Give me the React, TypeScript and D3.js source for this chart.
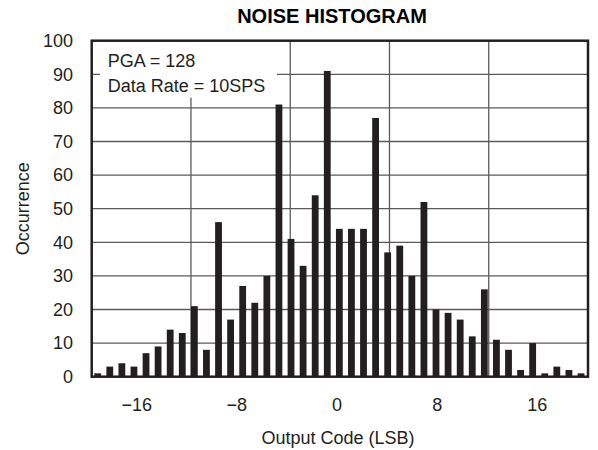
import { useMemo } from "react";
import * as d3 from "d3";

const WIDTH = 598;
const HEIGHT = 450;
const PLOT = { left: 91.7, right: 588, top: 40.7, bottom: 376.7 };
const FONT = "'Liberation Sans', Arial, Helvetica, sans-serif";
const INK = "#231f20";

// output codes, one bar each
const codes = [
  -20, -19, -18, -17, -16, -15, -14, -13, -12, -11, -10, -9, -8, -7, -6, -5, -4,
  -3, -2, -1, 0, 1, 2, 3, 4, 5, 6, 7, 8, 9, 10, 11, 12, 13, 14, 15, 16, 17, 18,
  19, 20,
];
const occurrences = [
  1, 3, 4, 3, 7, 9, 14, 13, 21, 8, 46, 17, 27, 22, 30, 81, 41, 33, 54, 91, 44,
  44, 44, 77, 37, 39, 30, 52, 20, 19, 17, 12, 26, 11, 8, 2, 10, 1, 3, 2, 1,
];
const xTicks = [-16, -8, 0, 8, 16];
const yTicks = [0, 10, 20, 30, 40, 50, 60, 70, 80, 90, 100];
const legendLines = ["PGA = 128", "Data Rate = 10SPS"];

const BAR_WIDTH = 6.8;

export default function App() {
  const xBar = useMemo(
    () => d3.scaleLinear().domain([-20, 20]).range([97.7, 581]),
    []
  );
  // tick labels of the original sit on their own spacing
  const xLabel = useMemo(
    () => d3.scaleLinear().domain([-16, 16]).range([136.7, 537.3]),
    []
  );
  const xGrid = useMemo(
    () => d3.scaleLinear().domain([0, 5]).range([PLOT.left, PLOT.right]),
    []
  );
  const yScale = useMemo(
    () => d3.scaleLinear().domain([0, 100]).range([PLOT.bottom, PLOT.top]),
    []
  );

  const bars = codes.map((c, i) => {
    const v = occurrences[i];
    return (
      <rect
        key={c}
        x={xBar(c) - BAR_WIDTH / 2}
        y={yScale(v)}
        width={BAR_WIDTH}
        height={PLOT.bottom - yScale(v)}
        fill={INK}
      />
    );
  });

  return (
    <svg
      width={WIDTH}
      height={HEIGHT}
      style={{ position: "absolute", left: 0, top: 0, background: "#fff" }}
      fontFamily={FONT}
    >
      {/* grid */}
      {yTicks.slice(1, -1).map((t) => (
        <line
          key={"h" + t}
          x1={PLOT.left}
          x2={PLOT.right}
          y1={yScale(t)}
          y2={yScale(t)}
          stroke="#5a5a5a"
          strokeWidth={1.3}
        />
      ))}
      {d3.range(1, 5).map((i) => (
        <line
          key={"v" + i}
          x1={xGrid(i)}
          x2={xGrid(i)}
          y1={PLOT.top}
          y2={PLOT.bottom}
          stroke="#5a5a5a"
          strokeWidth={1.3}
        />
      ))}

      {/* legend box hides the grid behind it */}
      <rect x={100} y={PLOT.top} width={177} height={57} fill="#fff" />
      {legendLines.map((t, i) => (
        <text key={t} x={107.7} y={66.7 + i * 25} fontSize={18} fill={INK}>
          {t}
        </text>
      ))}

      {bars}

      <rect
        x={PLOT.left}
        y={PLOT.top}
        width={PLOT.right - PLOT.left}
        height={PLOT.bottom - PLOT.top}
        fill="none"
        stroke={INK}
        strokeWidth={2.5}
      />

      {/* y axis labels */}
      {yTicks.map((t) => (
        <text
          key={"y" + t}
          x={73}
          y={yScale(t)}
          dy="0.35em"
          textAnchor="end"
          fontSize={18}
          fill={INK}
        >
          {t}
        </text>
      ))}

      {/* x axis labels */}
      {xTicks.map((t) => (
        <text
          key={"x" + t}
          x={xLabel(t)}
          y={410.7}
          textAnchor="middle"
          fontSize={18}
          fill={INK}
        >
          {t < 0 ? "\u2212" + Math.abs(t) : t}
        </text>
      ))}

      <text
        x={332}
        y={22.7}
        textAnchor="middle"
        fontSize={20}
        fontWeight="bold"
        fill="#000"
      >
        NOISE HISTOGRAM
      </text>
      <text x={338} y={444} textAnchor="middle" fontSize={18} fill={INK}>
        Output Code (LSB)
      </text>
      <text
        transform={`translate(29,${(PLOT.top + PLOT.bottom) / 2}) rotate(-90)`}
        textAnchor="middle"
        fontSize={18}
        fill={INK}
      >
        Occurrence
      </text>
    </svg>
  );
}
